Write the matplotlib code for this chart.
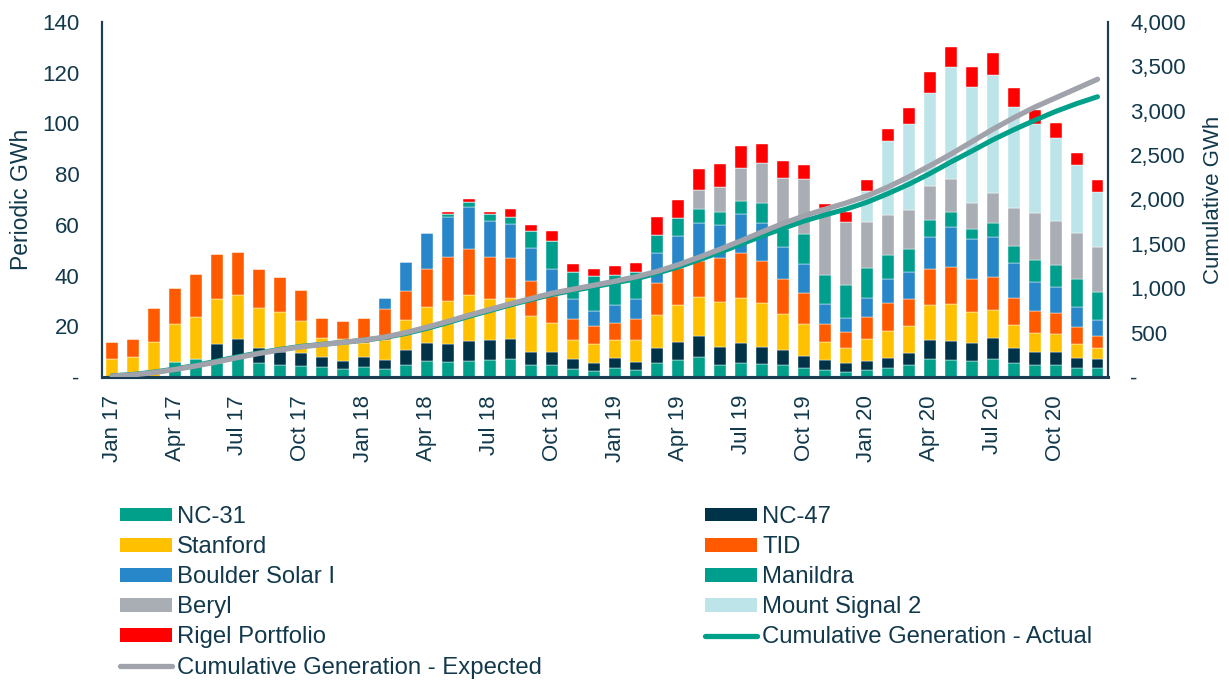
import numpy as np
import matplotlib
matplotlib.use("Agg")
import matplotlib.pyplot as plt
from matplotlib.patches import Patch
from matplotlib.lines import Line2D

plt.rcParams['font.family'] = ['Liberation Sans', 'DejaVu Sans']

months = ["Jan 17", "Feb 17", "Mar 17", "Apr 17", "May 17", "Jun 17", "Jul 17", "Aug 17", "Sep 17", "Oct 17", "Nov 17", "Dec 17",
          "Jan 18", "Feb 18", "Mar 18", "Apr 18", "May 18", "Jun 18", "Jul 18", "Aug 18", "Sep 18", "Oct 18", "Nov 18", "Dec 18",
          "Jan 19", "Feb 19", "Mar 19", "Apr 19", "May 19", "Jun 19", "Jul 19", "Aug 19", "Sep 19", "Oct 19", "Nov 19", "Dec 19",
          "Jan 20", "Feb 20", "Mar 20", "Apr 20", "May 20", "Jun 20", "Jul 20", "Aug 20", "Sep 20", "Oct 20", "Nov 20", "Dec 20"]
tick_labels = ["Jan 17", "Apr 17", "Jul 17", "Oct 17", "Jan 18", "Apr 18", "Jul 18", "Oct 18",
               "Jan 19", "Apr 19", "Jul 19", "Oct 19", "Jan 20", "Apr 20", "Jul 20", "Oct 20"]

nc31 = [0, 0, 0, 6.0, 7.0, 5.5, 7.4, 5.5, 4.7, 4.3, 3.8, 3.3,
        4.1, 3.2, 4.7, 6.3, 6.0, 6.4, 6.7, 7.1, 4.7, 4.7, 3.2, 2.5,
        3.4, 2.8, 5.4, 6.7, 7.8, 4.6, 5.6, 5.0, 4.7, 3.4, 2.8, 2.1,
        2.8, 3.7, 4.7, 7.0, 6.7, 6.3, 7.1, 5.4, 4.7, 4.7, 3.5, 3.4]
nc47 = [0, 0, 0, 0, 0, 7.4, 7.6, 6.1, 5.3, 5.3, 4.2, 3.0,
        3.9, 3.5, 5.9, 7.0, 6.9, 7.8, 7.8, 7.8, 5.0, 5.3, 3.8, 2.9,
        4.1, 3.2, 5.9, 7.1, 8.4, 7.3, 7.9, 6.9, 5.9, 4.9, 3.9, 3.3,
        3.6, 3.9, 4.9, 7.6, 7.5, 7.0, 8.2, 6.2, 5.3, 5.3, 4.0, 3.6]
stanford = [7.1, 8.0, 13.7, 14.9, 16.8, 17.7, 17.3, 15.5, 15.5, 12.6, 7.5, 8.7,
            5.5, 7.9, 11.9, 14.4, 17.2, 18.1, 16.3, 16.1, 14.4, 11.2, 7.6, 7.5,
            7.1, 8.6, 13.2, 14.6, 15.5, 17.6, 17.8, 17.2, 14.2, 12.5, 7.1, 6.2,
            8.6, 10.7, 10.6, 13.8, 14.6, 12.2, 11.1, 8.9, 7.2, 7.0, 5.5, 4.6]
tid = [6.8, 6.9, 13.4, 14.3, 16.7, 17.8, 16.9, 15.4, 13.8, 12.1, 7.6, 7.1,
       9.6, 12.2, 11.5, 14.8, 17.3, 18.1, 16.4, 16.0, 13.9, 10.7, 8.1, 7.2,
       6.8, 8.4, 12.7, 14.5, 14.0, 17.3, 17.5, 16.8, 13.8, 12.2, 7.0, 6.0,
       8.8, 10.8, 10.6, 14.1, 14.5, 13.2, 12.9, 10.8, 8.8, 8.1, 6.6, 4.6]
boulder = [0, 0, 0, 0, 0, 0, 0, 0, 0, 0, 0, 0,
           0, 4.5, 11.2, 14.1, 15.6, 16.5, 14.2, 13.2, 12.7, 10.6, 7.9, 6.0,
           7.0, 7.6, 11.8, 12.7, 14.9, 13.0, 15.3, 14.7, 12.5, 11.5, 7.8, 5.5,
           7.5, 9.4, 10.7, 12.6, 15.7, 15.6, 16.0, 13.8, 11.6, 10.3, 7.9, 6.1]
manildra = [0, 0, 0, 0, 0, 0, 0, 0, 0, 0, 0, 0,
            0, 0, 0, 0, 1.1, 2.2, 2.7, 3.0, 7.0, 11.0, 10.8, 13.7,
            11.7, 10.9, 7.0, 7.0, 5.8, 5.4, 5.4, 7.9, 7.1, 11.8, 11.8, 13.2,
            11.8, 9.5, 9.0, 6.8, 6.1, 4.0, 5.3, 6.6, 8.5, 8.8, 11.1, 11.1]
beryl = [0, 0, 0, 0, 0, 0, 0, 0, 0, 0, 0, 0,
         0, 0, 0, 0, 0, 0, 0, 0, 0, 0, 0, 0,
         0, 0, 0, 0, 7.3, 9.8, 12.8, 15.9, 20.2, 21.9, 26.3, 24.9,
         18.1, 15.8, 15.4, 13.4, 13.0, 10.5, 11.8, 15.1, 18.5, 17.4, 18.3, 17.7]
mount_signal = [0, 0, 0, 0, 0, 0, 0, 0, 0, 0, 0, 0,
                0, 0, 0, 0, 0, 0, 0, 0, 0, 0, 0, 0,
                0, 0, 0, 0, 0, 0, 0, 0, 0, 0, 0, 0,
                12.3, 29.3, 33.9, 36.8, 44.2, 45.6, 46.7, 39.8, 35.0, 32.5, 26.7, 21.8]
rigel = [0, 0, 0, 0, 0, 0, 0, 0, 0, 0, 0, 0,
         0, 0, 0, 0.3, 0.8, 1.0, 0.8, 2.9, 2.2, 4.2, 3.3, 2.7,
         3.7, 3.6, 7.0, 7.2, 8.3, 9.0, 8.8, 7.6, 6.6, 5.5, 1.6, 4.0,
         4.2, 4.9, 6.1, 8.2, 7.9, 7.9, 8.5, 7.5, 5.8, 6.2, 4.6, 4.6]

cum_actual = [14, 29, 56, 91, 132, 180, 229, 272, 311, 345, 368, 391,
              414, 445, 490, 547, 612, 682, 747, 813, 873, 931, 975, 1018,
              1062, 1107, 1170, 1240, 1322, 1406, 1497, 1589, 1674, 1758, 1826, 1891,
              1969, 2066, 2172, 2292, 2422, 2545, 2672, 2786, 2892, 2992, 3080, 3158]
cum_expected = [10, 25, 50, 85, 125, 170, 220, 265, 305, 340, 365, 390,
                415, 450, 500, 560, 625, 695, 760, 825, 885, 945, 990, 1035,
                1080, 1130, 1190, 1265, 1350, 1440, 1535, 1635, 1730, 1815, 1890, 1960,
                2040, 2140, 2255, 2380, 2510, 2650, 2790, 2920, 3040, 3145, 3250, 3355]

series = [
    ("NC-31", nc31, "#00A08A"),
    ("NC-47", nc47, "#003347"),
    ("Stanford", stanford, "#FFC000"),
    ("TID", tid, "#FF5A00"),
    ("Boulder Solar I", boulder, "#2787C8"),
    ("Manildra", manildra, "#009E8C"),
    ("Beryl", beryl, "#A9ADB4"),
    ("Mount Signal 2", mount_signal, "#BDE5E9"),
    ("Rigel Portfolio", rigel, "#FF0000"),
]
actual_color = "#00A08A"
expected_color = "#A0A3AB"
text_color = "#12394B"
spine_color = "#1B3F52"

fig = plt.figure(figsize=(12.29, 6.8), dpi=100)
ax = fig.add_axes([101.7 / 1229, 1 - 377 / 680, (1108 - 101.7) / 1229, (377 - 22) / 680])

x = np.arange(len(months))
bottom = np.zeros(len(months))
for name, vals, col in series:
    v = np.array(vals, dtype=float)
    ax.bar(x, v, width=0.57, bottom=bottom, color=col, edgecolor='white', linewidth=0.3, zorder=2)
    bottom += v

ax.set_xlim(-0.5, 47.5)
ax.set_ylim(0, 140)
ax.set_yticks(np.arange(0, 141, 20))
ax.set_yticklabels(["-"] + [str(v) for v in range(20, 141, 20)])
ax.set_xticks(np.arange(0, 48, 3))
ax.set_xticklabels(tick_labels, rotation=90)

ax2 = ax.twinx()
ax2.plot(x, cum_actual, color=actual_color, lw=3.6, solid_capstyle='round', zorder=3)
ax2.plot(x, cum_expected, color=expected_color, lw=3.8, solid_capstyle='round', zorder=4)
ax2.set_ylim(0, 4000)
ax2.set_yticks(np.arange(0, 4001, 500))
ax2.set_yticklabels(["-"] + [f"{v:,}" for v in range(500, 4001, 500)])

for a in (ax, ax2):
    a.spines['top'].set_visible(False)
    for s in ('left', 'right', 'bottom'):
        a.spines[s].set_color(spine_color)
    a.spines['left'].set_linewidth(1.5)
    a.spines['right'].set_linewidth(1.5)
    a.spines['bottom'].set_linewidth(2.2)
    a.tick_params(axis='both', length=0, labelsize=16, colors=text_color)

ax.tick_params(axis='y', pad=16)
ax2.tick_params(axis='y', pad=16)
ax.tick_params(axis='x', pad=13)

ax.set_ylabel("Periodic GWh", fontsize=16.5, color=text_color, labelpad=7)
ax2.set_ylabel("Cumulative GWh", fontsize=16, color=text_color, labelpad=12)

handles = {name: Patch(facecolor=col, edgecolor='none') for name, _, col in series}
h_act = Line2D([0], [0], color=actual_color, lw=3.8, solid_capstyle='round')
h_exp = Line2D([0], [0], color=expected_color, lw=3.8, solid_capstyle='round')

col1 = [handles["NC-31"], handles["Stanford"], handles["Boulder Solar I"], handles["Beryl"],
        handles["Rigel Portfolio"], h_exp]
lab1 = ["NC-31", "Stanford", "Boulder Solar I", "Beryl", "Rigel Portfolio", "Cumulative Generation - Expected"]
col2 = [handles["NC-47"], handles["TID"], handles["Manildra"], handles["Mount Signal 2"], h_act]
lab2 = ["NC-47", "TID", "Manildra", "Mount Signal 2", "Cumulative Generation - Actual"]

leg_kw = dict(frameon=False, fontsize=17.2, handlelength=2.16, handleheight=0.51,
              handletextpad=0.24, labelspacing=0.34, borderpad=0, borderaxespad=0,
              labelcolor=text_color, loc='upper left')
fig.legend(col1, lab1, bbox_to_anchor=(120 / 1229, 1 - 506 / 680), **leg_kw)
fig.legend(col2, lab2, bbox_to_anchor=(705 / 1229, 1 - 506 / 680), **leg_kw)

fig.savefig("out.png", dpi=100)
